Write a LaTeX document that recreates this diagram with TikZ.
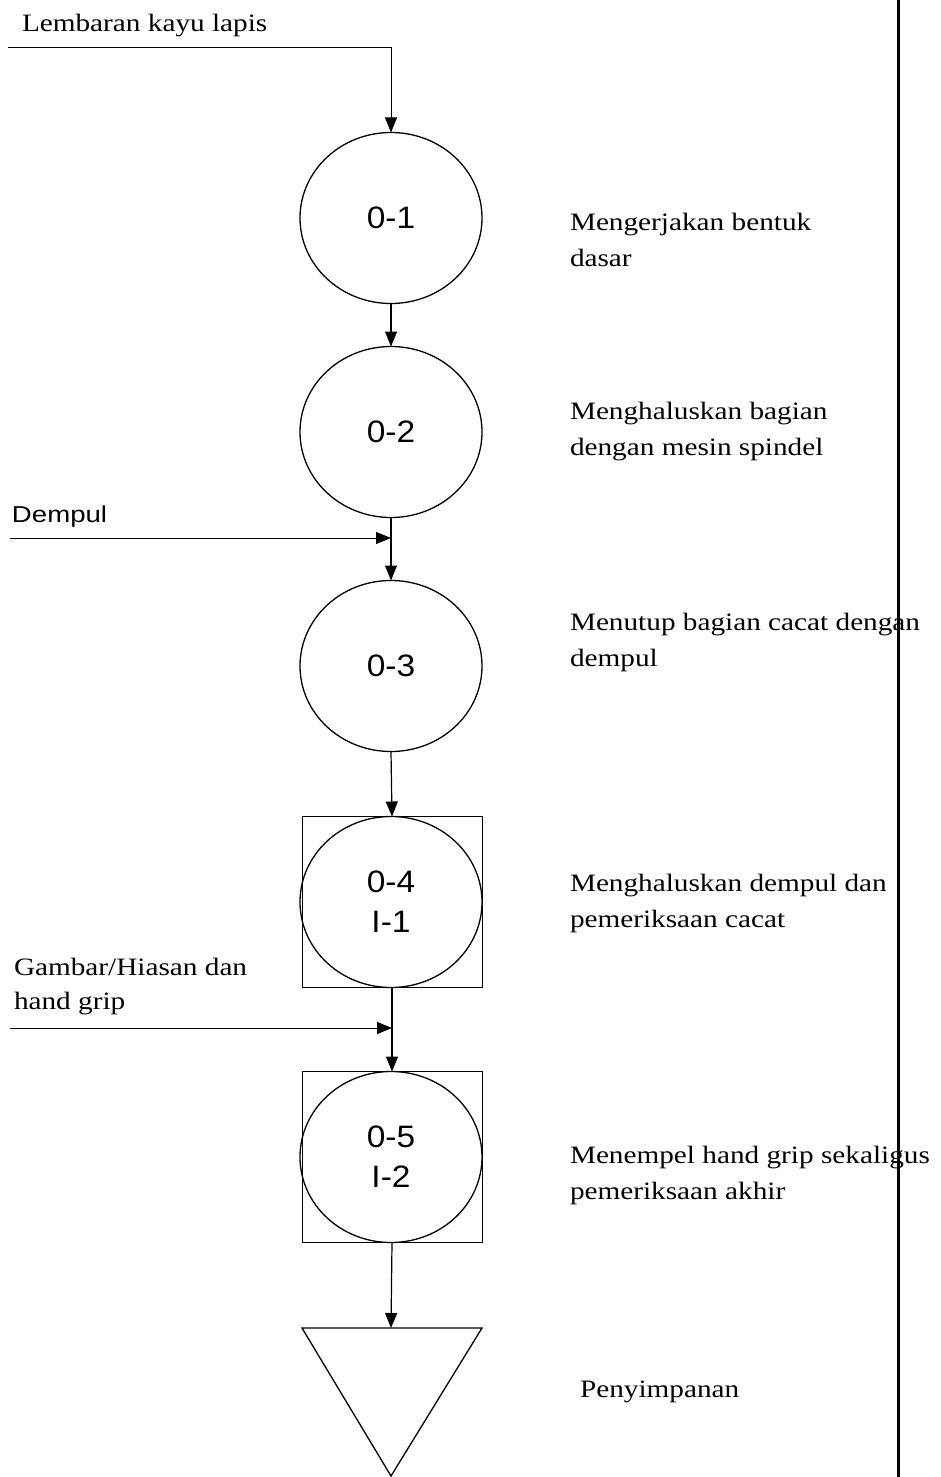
\documentclass[tikz,border=0pt]{standalone}
\usepackage{fontspec}
\setmainfont{Liberation Serif}[FakeStretch=1.17]
\newfontfamily\numfont{Liberation Sans}[FakeStretch=1.08]
\newfontfamily\lblfont{Liberation Sans}[FakeStretch=1.2]
\usetikzlibrary{arrows.meta,shapes.geometric}
\begin{document}
\begin{tikzpicture}[x=1pt,y=-1pt,
  every node/.style={inner sep=0pt,outer sep=0pt},
  opnode/.style={ellipse,draw,line width=1.3pt,minimum width=182pt,minimum height=171pt,
    font=\numfont\fontsize{31}{38}\selectfont,align=center},
  boxnode/.style={rectangle,draw,line width=0.9pt,minimum width=180pt,minimum height=171pt},
  flow/.style={line width=1.2pt,-{Triangle[length=15pt,width=12pt]}},
  feed/.style={line width=1pt,-{Triangle[length=15pt,width=12pt]}},
  % multi-line labels are placed by the baseline of their last line
  desc/.style={anchor=base west,align=left,font=\fontsize{25}{36}\selectfont},
  inlabel/.style={anchor=base west,align=left,font=\fontsize{25}{34}\selectfont}]
\useasboundingbox (0,0) rectangle (940,1477);

% right-hand border
\draw[line width=3pt] (898,0) -- (898,1477);

% operation symbols
\node[opnode] (c1) at (391,218) {\raisebox{-3pt}{0-1}};
\node[opnode] (c2) at (391,432) {\raisebox{-3pt}{0-2}};
\node[opnode] (c3) at (391,666) {\raisebox{-3pt}{0-3}};
\node[boxnode] (b4) at (392,902) {};
\node[opnode] (c4) at (391,902) {0-4\\[2pt]I-1};
\node[boxnode] (b5) at (392,1157) {};
\node[opnode] (c5) at (391,1157) {0-5\\[2pt]I-2};

% storage triangle
\coordinate (st) at (391,1328);
\draw[line width=1.3pt] (302,1328) -- (482,1328) -- (391,1476) -- cycle;

% main flow
\coordinate (in1) at (8,48);
\draw[feed] (in1) -| (c1.north);
\draw[flow] (c1.south) -- (c2.north);
\draw[flow] (c2.south) -- (c3.north);
\draw[flow] (c3.south) -- (b4.north);
\draw[flow] (b4.south) -- (b5.north);
\draw[flow] (b5.south) -- (st);

% side inputs
\coordinate (in2) at (10,538);
\draw[feed] (in2) -- (in2 -| c2.south);
\coordinate (in3) at (10,1028);
\draw[feed] (in3) -- (in3 -| b4.south);

% input labels
\node[inlabel] (l1) at (22,32) {Lembaran kayu lapis};
\node[anchor=base west,font=\lblfont\fontsize{23}{26}\selectfont] (l2) at (12,522) {Dempul};
\node[inlabel] (l3) at (14,1009) {Gambar/Hiasan dan\\hand grip};

% operation descriptions
\node[desc] (d1) at (570,266) {Mengerjakan bentuk\\dasar};
\node[desc] (d2) at (570,455) {Menghaluskan bagian\\dengan mesin spindel};
\node[desc] (d3) at (570,666) {Menutup bagian cacat dengan\\dempul};
\node[desc] (d4) at (570,927) {Menghaluskan dempul dan\\pemeriksaan cacat};
\node[desc] (d5) at (570,1199) {Menempel hand grip sekaligus\\pemeriksaan akhir};
\node[desc] (d6) at (580,1397) {Penyimpanan};
\end{tikzpicture}
\end{document}
